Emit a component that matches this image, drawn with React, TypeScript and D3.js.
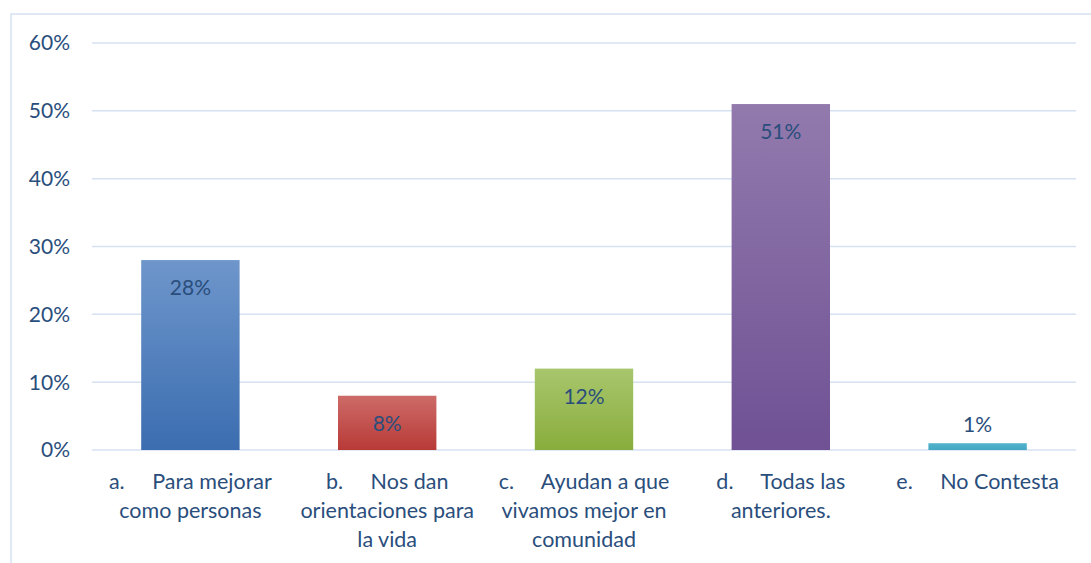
import React from "react";
import * as d3 from "d3";

const categories: string[][] = [
  ["a.     Para mejorar", "como personas"],
  ["b.     Nos dan", "orientaciones para", "la vida"],
  ["c.     Ayudan a que", "vivamos mejor en", "comunidad"],
  ["d.     Todas las", "anteriores."],
  ["e.     No Contesta"],
];
const values = [0.28, 0.08, 0.12, 0.51, 0.01];
const colorsTop = ["#6e96cb", "#cd6b68", "#a8c66d", "#927aad", "#52b3cc"];
const colorsBottom = ["#3b6db0", "#b83a37", "#89ad3c", "#6f5194", "#44a8c3"];
const yTicks = [0, 0.1, 0.2, 0.3, 0.4, 0.5, 0.6];

const W = 1091;
const H = 563;
const left = 92;
const right = 1076;
const top = 43;
const bottom = 450;
const textColor = "#2a4e7c";
const font = "Lato, 'Open Sans', sans-serif";

export default function App() {
  const x = d3
    .scaleBand<number>()
    .domain(values.map((_, i) => i))
    .range([left, right])
    .paddingInner(0.5)
    .paddingOuter(0.25);
  const y = d3.scaleLinear().domain([0, 0.6]).range([bottom, top]);
  const pct = d3.format(".0%");

  return (
    <svg
      width={W}
      height={H}
      style={{ position: "absolute", left: 0, top: 0, background: "#fff" }}
      fontFamily={font}
    >
      <defs>
        {values.map((_, i) => (
          <linearGradient key={i} id={`g${i}`} x1="0" y1="0" x2="0" y2="1">
            <stop offset="0%" stopColor={colorsTop[i]} />
            <stop offset="100%" stopColor={colorsBottom[i]} />
          </linearGradient>
        ))}
      </defs>
      <rect x={11} y={14} width={1100} height={600} fill="none" stroke="#d5e2f3" strokeWidth={1.5} />
      {yTicks.map((t) => (
        <g key={t}>
          <line x1={left} x2={right} y1={y(t)} y2={y(t)} stroke="#d6e2f2" strokeWidth={1.5} />
          <text x={70} y={y(t)} dy="0.35em" textAnchor="end" fontSize={21} fill={textColor}>
            {pct(t)}
          </text>
        </g>
      ))}
      {values.map((v, i) => {
        const bx = x(i)!;
        const bw = x.bandwidth();
        const by = y(v);
        const small = bottom - by < 40;
        return (
          <g key={i}>
            <rect x={bx} y={by} width={bw} height={bottom - by} fill={`url(#g${i})`} />
            <text
              x={bx + bw / 2}
              y={small ? by - 11 : by + 35}
              textAnchor="middle"
              fontSize={21}
              fill={textColor}
            >
              {pct(v)}
            </text>
            {categories[i].map((line, j) => (
              <text
                key={j}
                x={bx + bw / 2}
                y={489 + j * 29}
                textAnchor="middle"
                fontSize={21.5}
                fill={textColor}
                style={{ whiteSpace: "pre" }}
              >
                {line}
              </text>
            ))}
          </g>
        );
      })}
    </svg>
  );
}
